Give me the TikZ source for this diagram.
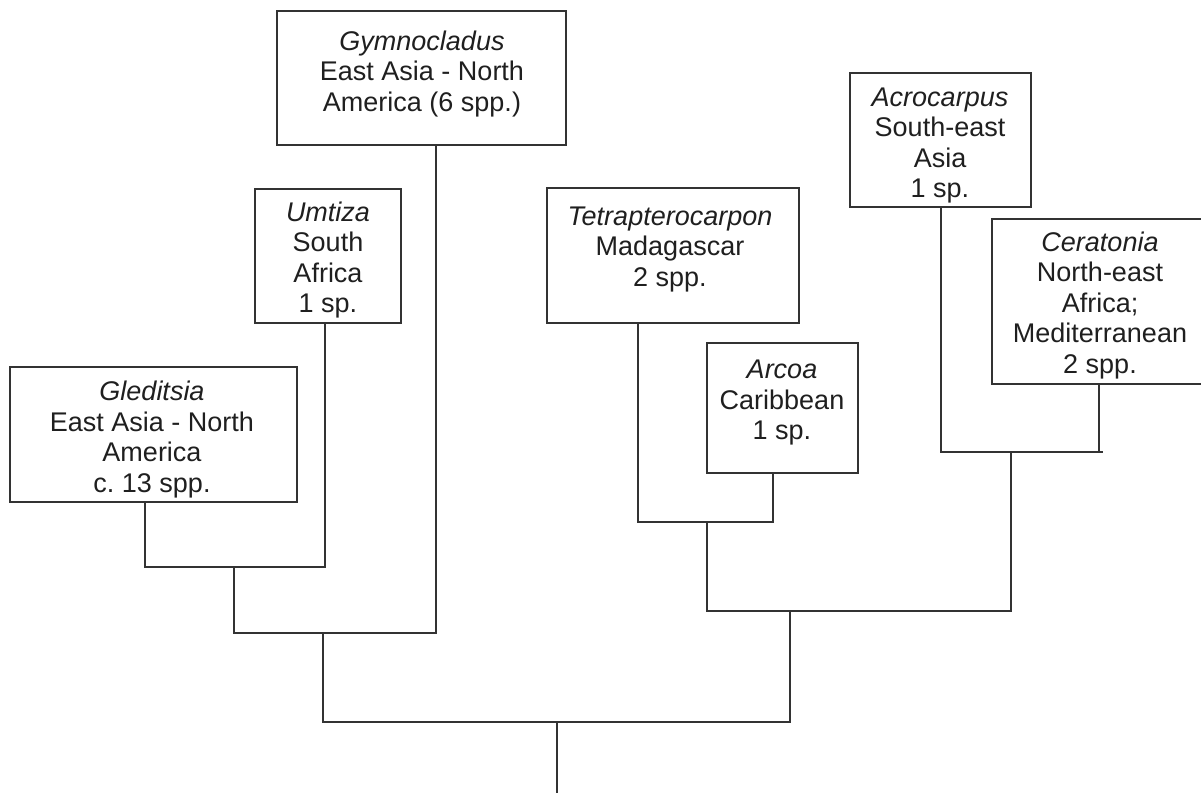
\documentclass[tikz,border=0pt]{standalone}
\usepackage{fontspec}
\setmainfont{Liberation Sans}
\frenchspacing
\begin{document}
\begin{tikzpicture}[x=1pt,y=-1pt,
  line width=1.6pt, draw={black!80},
  frame/.style={draw, inner sep=0pt},
  taxon/.style={align=center, inner sep=0pt, text=black!88,
    font=\fontsize{27}{30.5}\selectfont},
  branch/.style={draw, line cap=butt, line join=miter}]
\useasboundingbox (0,0) rectangle (1201,793);

% frames: centre at the middle of each box, sized to its edges
\node[frame, minimum width=289, minimum height=134] (gym) at (421.5,78) {};
\node[frame, minimum width=146, minimum height=134] (umt) at (328,256) {};
\node[frame, minimum width=287, minimum height=135] (gle) at (153.5,434.5) {};
\node[frame, minimum width=252, minimum height=135] (tet) at (673,255.5) {};
\node[frame, minimum width=151, minimum height=130] (arc) at (782.5,408) {};
\node[frame, minimum width=181, minimum height=134] (acr) at (940.5,140) {};
\node[frame, minimum width=216, minimum height=165] (cer) at (1100,301.5) {};

% taxon names, ranges and species counts
\node[taxon] (gym-t) at (422,74) {\textit{Gymnocladus}\\East Asia - North\\America (6 spp.)};
\node[taxon] (umt-t) at (328,260) {\textit{Umtiza}\\South\\Africa\\1 sp.};
\node[taxon] (gle-t) at (152,439.5) {\textit{Gleditsia}\\East Asia - North\\America\\c. 13 spp.};
\node[taxon] (tet-t) at (670,249.5) {\textit{Tetrapterocarpon}\\Madagascar\\2 spp.};
\node[taxon] (arc-t) at (782,403) {\textit{Arcoa}\\Caribbean\\1 sp.};
\node[taxon] (acr-t) at (940,145.5) {\textit{Acrocarpus}\\South-east\\Asia\\1 sp.};
\node[taxon] (cer-t) at (1100,305.5) {\textit{Ceratonia}\\North-east\\Africa;\\Mediterranean\\2 spp.};

% junction points of the tree
\coordinate (j1l) at (145,567);  \coordinate (j1r) at (325,567);  \coordinate (j1) at (234,567);
\coordinate (j2r) at (436,633);  \coordinate (j2) at (323,633);
\coordinate (j3l) at (638,522);  \coordinate (j3r) at (773,522);  \coordinate (j3) at (707,522);
\coordinate (j4l) at (941,452);  \coordinate (j4r) at (1099,452); \coordinate (j4) at (1011,452);
\coordinate (j4e) at (1103,452);
\coordinate (j5l) at (707,611);  \coordinate (j5r) at (1011,611); \coordinate (j5) at (790,611);
\coordinate (rl) at (323,722);   \coordinate (rr) at (790,722);   \coordinate (r) at (557,722);
\coordinate (base) at (557,793);

% left clade
\path[branch] (gle.south -| j1l) -- (j1l) -- (j1r) -- (umt.south -| j1r);
\path[branch] (j1) |- (j2r) -- (gym.south -| j2r);
% right clade
\path[branch] (tet.south -| j3l) -- (j3l) -- (j3r) -- (arc.south -| j3r);
\path[branch] (acr.south -| j4l) -- (j4l) -- (j4e);
\path[branch] (cer.south -| j4r) -- (j4r);
\path[branch] (j3) -- (j5l) -- (j5r) -- (j4);
% root
\path[branch] (j2) -- (rl) -- (rr) -- (j5);
\path[branch] (r) -- (base);
\end{tikzpicture}
\end{document}
